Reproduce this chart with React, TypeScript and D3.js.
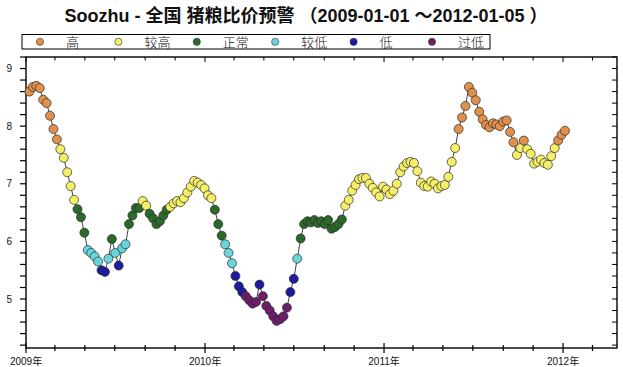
import * as d3 from "d3";

// weekly readings, first one on 2009-01-08
const values2009 = [
  8.6, 8.68, 8.7, 8.66, 8.46, 8.4, 8.18, 7.95, 7.77, 7.6,
  7.45, 7.2, 6.96, 6.72, 6.56, 6.42, 6.15, 5.85, 5.8, 5.74,
  5.65, 5.5, 5.47, 5.7, 6.04, 5.8, 5.58, 5.88, 5.95, 6.3,
  6.45, 6.58, 6.58, 6.7, 6.62, 6.48, 6.4, 6.3, 6.35, 6.45,
  6.55, 6.6, 6.66, 6.7, 6.68, 6.75, 6.85, 6.95, 7.05, 7.02,
  6.98, 6.92,
];
const values2010 = [
  6.8, 6.75, 6.55, 6.3, 6.1, 5.95, 5.8, 5.62, 5.4, 5.22,
  5.12, 5.05, 4.98, 4.92, 4.95, 5.25, 5.05, 4.88, 4.8, 4.7,
  4.62, 4.65, 4.7, 4.85, 5.12, 5.35, 5.7, 6.05, 6.3, 6.35,
  6.33, 6.37, 6.32, 6.35, 6.3, 6.37, 6.22, 6.25, 6.3, 6.38,
  6.62, 6.72, 6.88, 6.98, 7.08, 7.1, 7.1, 7.0, 6.93, 6.85,
  6.78, 6.95,
];
const values2011 = [
  6.9, 6.82, 6.88, 7.0, 7.2, 7.3, 7.36, 7.38, 7.36, 7.22,
  7.02, 6.96, 6.95, 7.04, 7.0, 6.92, 6.96, 6.98, 7.12, 7.38,
  7.62, 7.95, 8.15, 8.35, 8.68, 8.58, 8.45, 8.25, 8.12, 8.02,
  7.98, 8.05, 8.03, 8.0, 8.08, 8.1, 7.9, 7.72, 7.5, 7.62,
  7.75, 7.6, 7.52, 7.35, 7.38, 7.42, 7.36, 7.33, 7.48, 7.62,
  7.75, 7.85,
];
const values2012 = [7.92];

const levels = ["高", "较高", "正常", "较低", "低", "过低"];
const levelColors = ["#e0904c", "#f4ee68", "#2c6a2c", "#66d6da", "#1c1ca0", "#6c1e6c"];
// lower bounds for 高 .. 低 (below the last one is 过低)
const levelFloors = [7.65, 6.6, 6.0, 5.6, 5.1];

const yTicks = [5, 6, 7, 8, 9];

const W = 623;
const H = 367;
const font = "'Liberation Sans', Arial, 'Noto Sans CJK SC', sans-serif";

function levelOf(v: number) {
  const i = levelFloors.findIndex((f) => v >= f);
  return i === -1 ? levels.length - 1 : i;
}

export default function App() {
  const all = [...values2009, ...values2010, ...values2011, ...values2012];
  const start = Date.UTC(2009, 0, 8);
  const data = all.map((v, i) => ({ date: new Date(start + i * 7 * 864e5), v }));

  const x = d3
    .scaleUtc()
    .domain([new Date(Date.UTC(2009, 0, 1)), new Date(Date.UTC(2012, 3, 20))])
    .range([26, 617]);
  const y = d3.scaleLinear().domain([4.15, 9.2]).range([348, 57]);

  const [x0, x1] = x.range();
  const [yb, yt] = y.range();

  const monthTicks = x.ticks(d3.utcMonth.every(2)!);
  const minorY = d3.range(42, 93, 2).map((d) => d / 10);

  const line = d3
    .line<{ date: Date; v: number }>()
    .x((d) => x(d.date))
    .y((d) => y(d.v));

  return (
    <svg
      width={W}
      height={H}
      style={{ position: "absolute", left: 0, top: 0, background: "#fff" }}
      fontFamily={font}
    >
      <text x={306} y={22} textAnchor="middle" fontSize={18} fontWeight="bold" fill="#111">
        Soozhu - 全国 猪粮比价预警 （2009-01-01 ～2012-01-05 ）
      </text>

      {/* legend */}
      <rect x={22} y={34.5} width={468} height={14.5} fill="#fff" stroke="#000" strokeWidth={1} />
      {levels.map((name, i) => (
        <g key={name} transform={`translate(${40 + i * 78.4},41.8)`}>
          <circle r={3.6} fill={levelColors[i]} stroke="#333" strokeWidth={0.6} />
          <text x={26} y={5} fontSize={13} fill="#111" fontFamily="'Noto Sans CJK SC', sans-serif" fontWeight={300}>
            {name}
          </text>
        </g>
      ))}

      {/* frame */}
      <rect x={x0} y={yt} width={x1 - x0} height={yb - yt} fill="none" stroke="#000" strokeWidth={1.4} />

      {/* y ticks, left outward, right inward */}
      {minorY.map((t) => (
        <g key={t}>
          <line x1={x0 - 6} x2={x0} y1={y(t)} y2={y(t)} stroke="#000" strokeWidth={1.2} />
          <line x1={x1 - 5} x2={x1} y1={y(t)} y2={y(t)} stroke="#000" strokeWidth={1} />
        </g>
      ))}
      {yTicks.map((t) => (
        <text key={t} x={12} y={y(t) + 3.5} textAnchor="end" fontSize={10} fill="#111">
          {t}
        </text>
      ))}

      {/* x ticks */}
      {monthTicks.map((d) => {
        const isYear = d.getUTCMonth() === 0;
        const px = x(d);
        return (
          <g key={+d}>
            <line x1={px} x2={px} y1={yb - (isYear ? 5 : 3)} y2={yb + (isYear ? 5 : 3)} stroke="#000" strokeWidth={1.2} />
            <line x1={px} x2={px} y1={yt} y2={yt + (isYear ? 5 : 3.5)} stroke="#000" strokeWidth={1} />
            {isYear && (
              <text x={px} y={365} textAnchor="middle" fontSize={10} fill="#111">
                {d.getUTCFullYear()}年
              </text>
            )}
          </g>
        );
      })}

      <path d={line(data) ?? ""} fill="none" stroke="#111" strokeWidth={0.8} />
      {data.map((d, i) => (
        <circle
          key={i}
          cx={x(d.date)}
          cy={y(d.v)}
          r={4.5}
          fill={levelColors[levelOf(d.v)]}
          stroke="#2a2a2a"
          strokeWidth={0.7}
        />
      ))}
    </svg>
  );
}
